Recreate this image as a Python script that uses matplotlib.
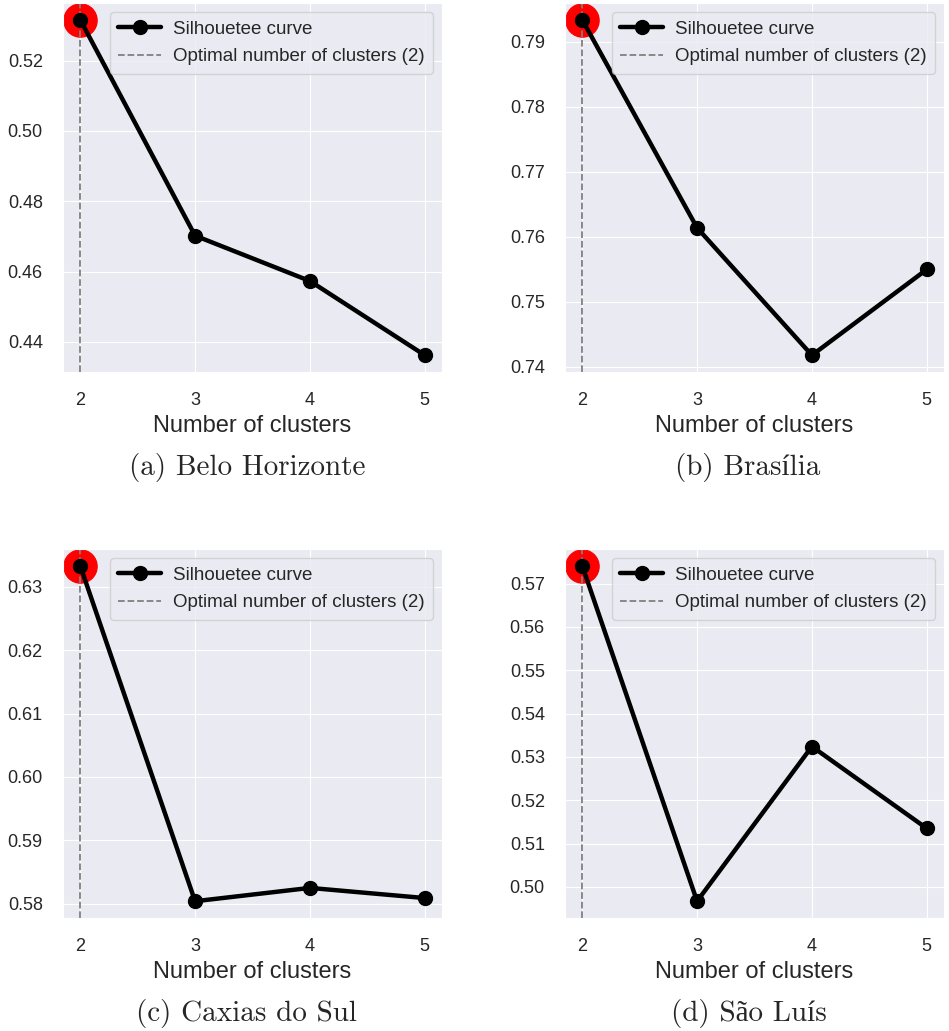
import matplotlib
matplotlib.use("Agg")
import matplotlib.pyplot as plt
import seaborn as sns

sns.set_style("darkgrid")
plt.rcParams["font.family"] = ["Liberation Sans", "DejaVu Sans"]

# Silhouette scores for k = 2..5 clusters, one series per city
n_clusters = [2, 3, 4, 5]
belo_horizonte = [0.5316, 0.4702, 0.4573, 0.4362]
brasilia = [0.7934, 0.7614, 0.7418, 0.7550]
caxias_do_sul = [0.6333, 0.5804, 0.5825, 0.5809]
sao_luis = [0.5741, 0.4967, 0.5324, 0.5135]
optimal_k = [2, 2, 2, 2]

captions = [
    "(a) Belo Horizonte",
    "(b) Brasília",
    "(c) Caxias do Sul",
    "(d) São Luís",
]
series = [belo_horizonte, brasilia, caxias_do_sul, sao_luis]

W, H = 949, 1031
fig = plt.figure(figsize=(W / 100, H / 100), dpi=100)

# axes boxes in pixels: (left, top, right, bottom)
boxes = [(63, 3, 442, 372), (565, 3, 944, 372),
         (63, 549, 442, 918), (565, 549, 944, 918)]
caption_xy = [(247, 468), (748, 468), (247, 1013), (749, 1013)]

for scores, k_opt, box, cap, cxy in zip(series, optimal_k, boxes, captions, caption_xy):
    l, t, r, b = box
    ax = fig.add_axes([l / W, 1 - b / H, (r - l) / W, (b - t) / H])
    best = scores[n_clusters.index(k_opt)]
    ax.scatter([k_opt], [best], s=570, color="red", zorder=1)
    ax.plot(n_clusters, scores, color="black", lw=3.2, marker="o",
            markersize=10, label="Silhouetee curve", zorder=3)
    ax.axvline(k_opt, color="gray", ls="--", lw=1.3,
               label=f"Optimal number of clusters ({k_opt})", zorder=2)
    ax.set_xticks(n_clusters)
    ax.tick_params(axis="x", labelsize=13, pad=11, colors="#262626")
    ax.tick_params(axis="y", labelsize=13, pad=11, colors="#262626")
    ax.set_xlabel("Number of clusters", fontsize=17, labelpad=4, color="#262626")
    leg = ax.legend(loc="upper right", fontsize=13.5, handlelength=2.3,
                    handletextpad=0.6, borderaxespad=0.5, borderpad=0.45,
                    labelspacing=0.55, framealpha=0.8)
    for txt in leg.get_texts():
        txt.set_color("#262626")
    fig.text(cxy[0] / W, 1 - cxy[1] / H, cap, fontsize=21,
             family=["cmr10", "Liberation Serif"],
             ha="center", va="center")

fig.savefig("out.png", dpi=100)
